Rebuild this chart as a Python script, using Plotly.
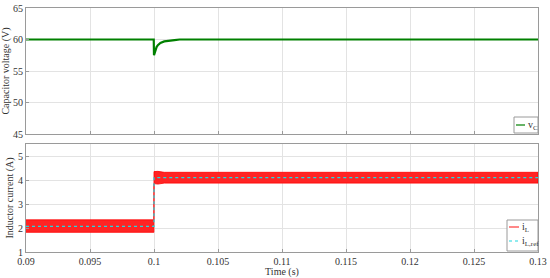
import plotly.graph_objects as go

# Capacitor voltage (V)
t_v = [0.09, 0.09998, 0.1, 0.10005, 0.1001, 0.1002, 0.1003, 0.1005, 0.1008, 0.1012, 0.1016, 0.102, 0.13]
v_c = [60.0, 60.0, 57.5, 57.9, 58.3, 58.8, 59.1, 59.45, 59.7, 59.85, 59.9, 60.0, 60.0]

# Inductor current ripple envelope (A)
t_i = [0.09, 0.09999, 0.1, 0.1003, 0.1008, 0.13]
i_upper = [2.34, 2.34, 4.35, 4.36, 4.32, 4.32]
i_lower = [1.82, 1.82, 3.85, 3.83, 3.87, 3.87]

# Reference current (A)
t_ref = [0.09, 0.1, 0.1, 0.13]
i_ref = [2.07, 2.07, 4.1, 4.1]

x_ticks = [0.09, 0.095, 0.1, 0.105, 0.11, 0.115, 0.12, 0.125, 0.13]
x_labels = ["0.09", "0.095", "0.1", "0.105", "0.11", "0.115", "0.12", "0.125", "0.13"]

font = "Liberation Serif"
grid = "#e3e3e3"
axis_col = "#9a9a9a"
txt_col = "#333333"

L, R, T, B = 26, 12, 8, 26
W, H = 550, 278


def px(x):
    return (x - L) / (W - L - R)


def py(y):
    return (H - B - y) / (H - T - B)


fig = go.Figure()
fig.add_trace(go.Scatter(x=t_v, y=v_c, mode="lines", name="v_C",
                         line=dict(color="#008000", width=2.2), xaxis="x", yaxis="y"))

band_x = t_i + t_i[::-1]
band_y = i_upper + i_lower[::-1]
fig.add_trace(go.Scatter(x=band_x, y=band_y, mode="lines", fill="toself", fillcolor="#ff2424",
                         name="i_L", line=dict(color="#ff0000", width=0.8),
                         xaxis="x2", yaxis="y2"))
fig.add_trace(go.Scatter(x=t_ref, y=i_ref, mode="lines", name="i_L,ref",
                         line=dict(color="#20d8e0", width=1.2, dash="dot"),
                         xaxis="x2", yaxis="y2"))

axis_common = dict(showline=True, linecolor=axis_col, mirror=True, showgrid=True, gridcolor=grid,
                   zeroline=False, ticks="inside", ticklen=3, tickcolor=axis_col, automargin=False,
                   tickfont=dict(family=font, size=10, color=txt_col))

fig.update_layout(
    width=W, height=H,
    margin=dict(l=L, r=R, t=T, b=B),
    paper_bgcolor="white", plot_bgcolor="white",
    font=dict(family=font, size=10, color=txt_col),
    showlegend=False,
    xaxis=dict(range=[0.09, 0.13], tickvals=x_ticks, showticklabels=False, anchor="y", **axis_common),
    yaxis=dict(range=[45, 65], domain=[py(134), 1], tickvals=[45, 50, 55, 60, 65], anchor="x",
               title=dict(text="Capacitor voltage (V)", standoff=2, font=dict(family=font, size=10)),
               **axis_common),
    xaxis2=dict(range=[0.09, 0.13], tickvals=x_ticks, ticktext=x_labels, anchor="y2",
                title=dict(text="Time (s)", standoff=0, font=dict(family=font, size=10)), **axis_common),
    yaxis2=dict(range=[1, 5.5], domain=[0, py(144)], tickvals=[1, 2, 3, 4, 5], anchor="x2",
                title=dict(text="Inductor current (A)", standoff=2, font=dict(family=font, size=10)),
                **axis_common),
)

# hand-drawn legend boxes (MATLAB style)
fig.add_shape(type="rect", xref="paper", yref="paper", x0=px(514), x1=px(538), y0=py(133), y1=py(117),
              line=dict(color=axis_col, width=1), fillcolor="white")
fig.add_shape(type="line", xref="paper", yref="paper", x0=px(516), x1=px(525), y0=py(125), y1=py(125),
              line=dict(color="#008000", width=1.2))
fig.add_annotation(xref="paper", yref="paper", x=px(525.5), y=py(125), text="v<sub>C</sub>",
                   showarrow=False, xanchor="left", yanchor="middle", font=dict(family=font, size=10))

fig.add_shape(type="rect", xref="paper", yref="paper", x0=px(507), x1=px(538), y0=py(251), y1=py(220),
              line=dict(color=axis_col, width=1), fillcolor="white")
fig.add_shape(type="line", xref="paper", yref="paper", x0=px(509), x1=px(519), y0=py(227), y1=py(227),
              line=dict(color="#ff6060", width=1.5))
fig.add_annotation(xref="paper", yref="paper", x=px(519.5), y=py(227), text="i<sub>L</sub>",
                   showarrow=False, xanchor="left", yanchor="middle", font=dict(family=font, size=10))
fig.add_shape(type="line", xref="paper", yref="paper", x0=px(509), x1=px(519), y0=py(241), y1=py(241),
              line=dict(color="#20d8e0", width=1.2, dash="dot"))
fig.add_annotation(xref="paper", yref="paper", x=px(519.5), y=py(241), text="i<sub>L,ref</sub>",
                   showarrow=False, xanchor="left", yanchor="middle", font=dict(family=font, size=10))

fig.write_html("out.html", config={"displayModeBar": False},
               post_script="document.body.style.margin='0';")
